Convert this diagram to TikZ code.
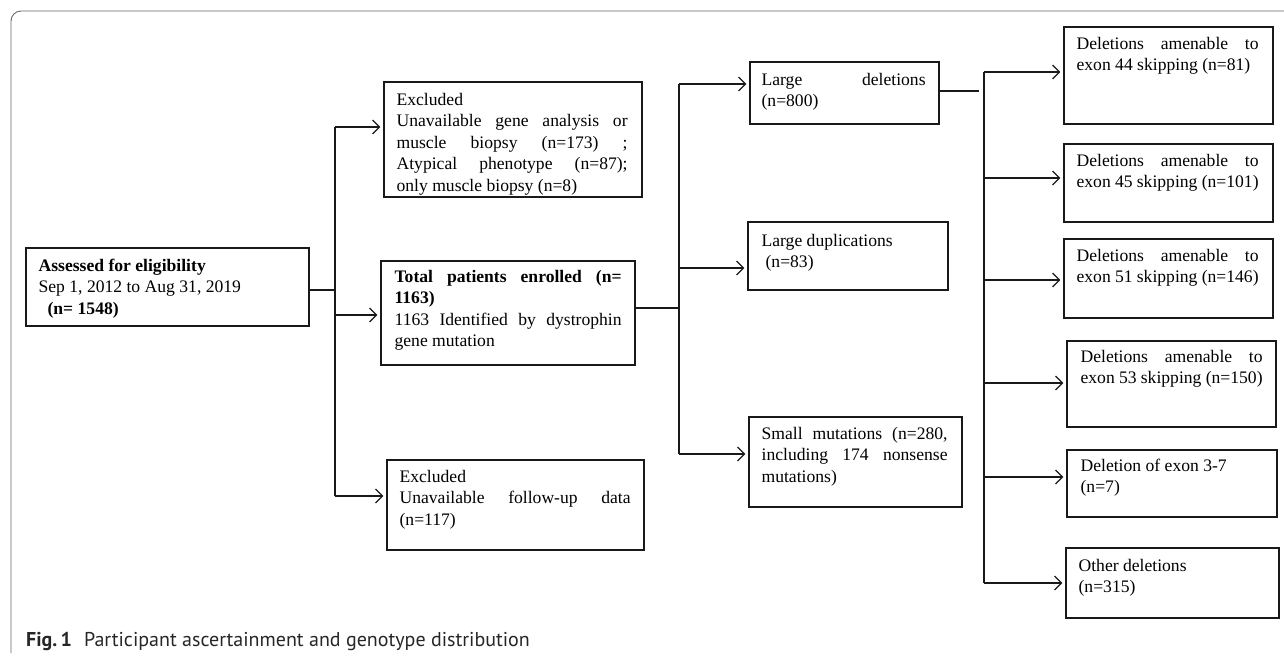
\documentclass[tikz,border=0pt]{standalone}
\usepackage{fontspec}
\setmainfont{Liberation Serif}
\newfontfamily\capfont{PT Sans}
\usetikzlibrary{calc,arrows.meta}
\newcommand{\jl}[1]{\makebox[\linewidth][s]{#1}}
\newcommand{\btext}[2]{\parbox[t]{#1pt}{#2}}
\begin{document}
\begin{tikzpicture}[x=1pt,y=-1pt,
  box/.style={draw=black!90, line width=1.2pt, inner sep=0pt, fill=none},
  txt/.style={inner sep=0pt, anchor=base west, font=\fontsize{17.6}{21.5}\selectfont, text=black},
  conn/.style={line width=1.2pt, draw=black!90},
  arr/.style={conn, -{Straight Barb[length=7pt,width=14pt,line width=1.2pt]}, shorten >=3pt}
]
\useasboundingbox (0,0) rectangle (1284,657);
% frame
\draw[line width=0.9pt, draw=black!60, rounded corners=10pt] (11,653) -- (11,11) -- (1290,11);

% boxes
\node[box, minimum width=283pt, minimum height=78pt] (A) at (167.5,287) {};
\node[box, minimum width=258pt, minimum height=115pt] (ex1) at (513,139.5) {};
\node[box, minimum width=254pt, minimum height=104pt] (tot) at (508,313) {};
\node[box, minimum width=257pt, minimum height=90pt] (ex2) at (515.5,505) {};
\node[box, minimum width=189pt, minimum height=62pt] (ld) at (844.5,93) {};
\node[box, minimum width=200pt, minimum height=68pt] (dup) at (848,256) {};
\node[box, minimum width=213pt, minimum height=90pt] (sm) at (855.5,462) {};
\node[box, minimum width=209pt, minimum height=97pt] (r1) at (1168.5,75.5) {};
\node[box, minimum width=209pt, minimum height=78pt] (r2) at (1168.5,183) {};
\node[box, minimum width=209pt, minimum height=79pt] (r3) at (1168.5,278.5) {};
\node[box, minimum width=209pt, minimum height=86pt] (r4) at (1171.5,384) {};
\node[box, minimum width=210pt, minimum height=67pt] (r5) at (1172,483.5) {};
\node[box, minimum width=213pt, minimum height=70pt] (r6) at (1172.5,583) {};

% texts
\node[txt] (tA) at ($(A.north west)+(13,24)$) {\btext{260}{\textbf{Assessed for eligibility}\\Sep 1, 2012 to Aug 31, 2019\\\hspace*{9pt}\textbf{(n= 1548)}}};
\node[txt] (tex1) at ($(ex1.north west)+(13,24)$) {\btext{231}{Excluded\\\jl{Unavailable gene analysis or}\\\jl{muscle biopsy (n=173) ;}\\\jl{Atypical phenotype (n=87);}\\only muscle biopsy (n=8)}};
\node[txt] (ttot) at ($(tot.north west)+(14,22)$) {\btext{227}{\jl{\bfseries Total patients enrolled (n=}\\\textbf{1163)}\\\jl{1163 Identified by dystrophin}\\gene mutation}};
\node[txt] (tex2) at ($(ex2.north west)+(13,23)$) {\btext{231}{Excluded\\\jl{Unavailable follow-up data}\\(n=117)}};
\node[txt] (tld) at ($(ld.north west)+(12,24)$) {\btext{164}{\jl{Large deletions}\\(n=800)}};
\node[txt] (tdup) at ($(dup.north west)+(14,25)$) {\btext{180}{Large duplications\\\hspace*{4pt}(n=83)}};
\node[txt] (tsm) at ($(sm.north west)+(13,23)$) {\btext{186}{\jl{Small mutations (n=280,}\\\jl{including 174 nonsense}\\mutations)}};
\node[txt] (tr1) at ($(r1.north west)+(13,23)$) {\btext{182}{\jl{Deletions amenable to}\\exon 44 skipping (n=81)}};
\node[txt] (tr2) at ($(r2.north west)+(13,23)$) {\btext{182}{\jl{Deletions amenable to}\\exon 45 skipping (n=101)}};
\node[txt] (tr3) at ($(r3.north west)+(13,23)$) {\btext{182}{\jl{Deletions amenable to}\\exon 51 skipping (n=146)}};
\node[txt] (tr4) at ($(r4.north west)+(14,22)$) {\btext{182}{\jl{Deletions amenable to}\\exon 53 skipping (n=150)}};
\node[txt] (tr5) at ($(r5.north west)+(14,22)$) {\btext{182}{Deletion of exon 3-7\\(n=7)}};
\node[txt] (tr6) at ($(r6.north west)+(13,24)$) {\btext{182}{Other deletions\\(n=315)}};

% connectors level 1
\coordinate (a1) at (335,290);
\coordinate (a2) at (335,127);
\coordinate (a3) at (335,315);
\coordinate (a4) at (335,496);
\draw[conn] ($(A.east)+(0,3)$) -- (a1);
\draw[conn] (a2) -- (a4);
\draw[arr] (a2) -- (a2 -| ex1.west);
\draw[arr] (a3) -- (a3 -| tot.west);
\draw[arr] (a4) -- (a4 -| ex2.west);

% connectors level 2
\coordinate (b1) at (679,308);
\coordinate (b2) at (679,84);
\coordinate (b3) at (679,268);
\coordinate (b4) at (679,454);
\draw[conn] ($(tot.east)+(0,-5)$) -- (b1);
\draw[conn] (b2) -- (b4);
\draw[arr] (b2) -- (b2 -| ld.west);
\draw[arr] (b3) -- (b3 -| dup.west);
\draw[arr] (b4) -- (b4 -| sm.west);

% connectors level 3
\coordinate (c0) at (979,91);
\coordinate (c1) at (984,72);
\coordinate (c2) at (984,178);
\coordinate (c3) at (984,280);
\coordinate (c4) at (984,383);
\coordinate (c5) at (984,477);
\coordinate (c6) at (984,583);
\draw[conn] ($(ld.east)+(0,-2)$) -- (c0);
\draw[conn] (c1) -- (c6);
\draw[arr] (c1) -- (c1 -| r1.west);
\draw[arr] (c2) -- (c2 -| r2.west);
\draw[arr] (c3) -- (c3 -| r3.west);
\draw[arr] (c4) -- (c4 -| r4.west);
\draw[arr] (c5) -- (c5 -| r5.west);
\draw[arr] (c6) -- (c6 -| r6.west);

% caption
\node[inner sep=0pt, anchor=base west, font=\capfont\fontsize{20}{22}\selectfont, text=black!85] (cap) at (26,646) {\textbf{Fig.\,1}\hspace{12pt}Participant ascertainment and genotype distribution};
\end{tikzpicture}
\end{document}
